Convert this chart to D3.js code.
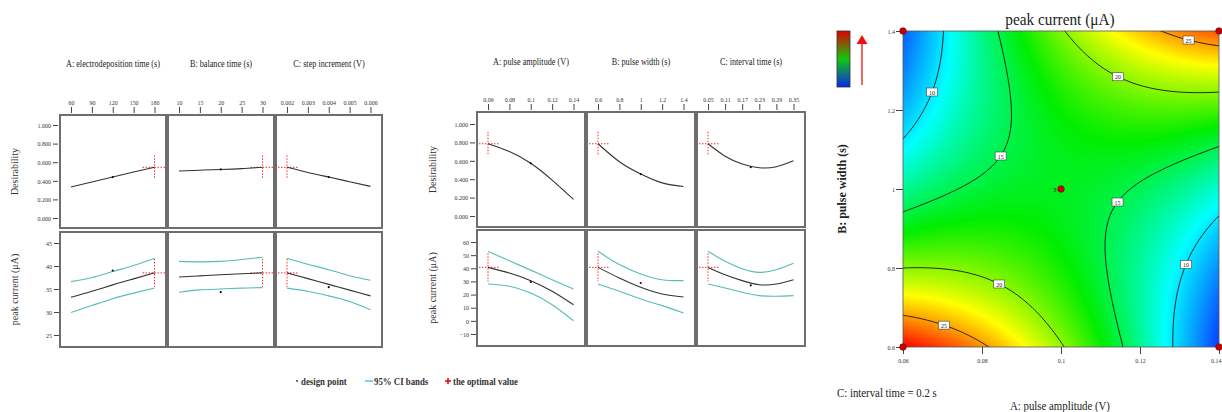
<!DOCTYPE html>
<html>
<head>
<meta charset="utf-8">
<script src="https://cdn.jsdelivr.net/npm/d3@7"></script>
<style>
  body { margin: 0; background: #fff; }
  svg { display: block; }
</style>
</head>
<body>
<svg id="chart" width="1222" height="412"></svg>
<script>
// ---------- one-factor profiles: electrodeposition step (left block) ----------
const edTitles = ["A: electrodeposition time (s)", "B: balance time (s)", "C: step increment  (V)"];
const edLevels = [[60, 90, 120, 150, 180], [10, 15, 20, 25, 30], [0.002, 0.003, 0.004, 0.005, 0.006]];
const edTickLabels = [["60", "90", "120", "150", "180"], ["10", "15", "20", "25", "30"], ["0.002", "0.003", "0.004", "0.005", "0.006"]];
const edDesirability = [[0.333, 0.387, 0.44, 0.494, 0.545], [0.505, 0.514, 0.522, 0.531, 0.545], [0.545, 0.49, 0.44, 0.39, 0.34]];
const edCurrent = [[33.2, 34.5, 35.9, 37.2, 38.5], [37.6, 37.85, 38.1, 38.3, 38.5], [38.5, 37.25, 36.0, 34.75, 33.5]];
const edUpper = [[36.6, 37.5, 38.8, 40.1, 41.7], [41.0, 40.9, 41.0, 41.4, 41.9], [41.7, 40.4, 39.2, 37.9, 36.9]];
const edLower = [[29.9, 31.4, 32.9, 34.1, 35.2], [34.3, 34.8, 35.0, 35.2, 35.3], [35.2, 34.5, 33.5, 32.3, 30.5]];
const edDesignLevel = [120, 20, 0.004];
const edDesignDesirability = [0.44, 0.522, 0.44];
const edDesignCurrent = [39.0, 34.3, 35.4];
const edOptimumLevel = [180, 30, 0.002];
const edOptimumDesirability = 0.545;
const edOptimumCurrent = 38.5;
const edDesirabilityTicks = [0, 0.2, 0.4, 0.6, 0.8, 1.0];
const edCurrentTicks = [25, 30, 35, 40, 45];

// ---------- one-factor profiles: pulse parameters (middle block) ----------
const pulseTitles = ["A: pulse amplitude (V)", "B: pulse width (s)", "C: interval time (s)"];
const pulseLevels = [[0.06, 0.08, 0.1, 0.12, 0.14], [0.6, 0.8, 1.0, 1.2, 1.4], [0.05, 0.11, 0.17, 0.23, 0.29, 0.35]];
const pulseTickLabels = [["0.06", "0.08", "0.1", "0.12", "0.14"], ["0.6", "0.8", "1", "1.2", "1.4"], ["0.05", "0.11", "0.17", "0.23", "0.29", "0.35"]];
const pulseDesirability = [[0.785, 0.70, 0.573, 0.39, 0.18], [0.785, 0.59, 0.456, 0.36, 0.32], [0.785, 0.65, 0.566, 0.525, 0.536, 0.60]];
const pulseCurrent = [[40.7, 36.4, 30.6, 22.5, 12.3], [40.7, 32.6, 25.5, 20.4, 18.2], [40.7, 35.1, 30.6, 27.5, 28.0, 31.3]];
const pulseUpper = [[52.9, 45.8, 38.6, 31.3, 24.2], [52.9, 42.8, 35.7, 31.3, 30.6], [52.9, 45.3, 39.7, 36.9, 38.9, 43.8]];
const pulseLower = [[28.0, 26.3, 21.2, 12.3, 0.1], [28.0, 22.5, 16.6, 11.6, 6.0], [28.0, 25.0, 21.7, 19.2, 18.7, 19.2]];
const pulseDesignLevel = [0.1, 1.0, 0.2];
const pulseDesignDesirability = [0.573, 0.456, 0.53];
const pulseDesignCurrent = [29.6, 28.8, 27.0];
const pulseOptimumLevel = [0.06, 0.6, 0.05];
const pulseOptimumDesirability = 0.785;
const pulseOptimumCurrent = 40.7;
const pulseDesirabilityTicks = [0, 0.2, 0.4, 0.6, 0.8, 1.0];
const pulseCurrentTicks = [-10, 0, 10, 20, 30, 40, 50, 60];

// ---------- response surface: peak current vs pulse amplitude & width (C = 0.2 s) ----------
const amplitudeTicks = [0.06, 0.08, 0.1, 0.12, 0.14];
const widthTicks = [0.6, 0.8, 1, 1.2, 1.4];
// quadratic model in coded units: intercept, A, B, AB, A², B²
const surfaceCoefs = [16.0, -0.75, -0.25, 11.25, -3.5, 4.0];
const contourLevels = [10, 15, 20, 25];
const designPointsA = [0.06, 0.14, 0.06, 0.14, 0.1];
const designPointsB = [1.4, 1.4, 0.6, 0.6, 1.0];
const centerReplicates = "3";

// ---------- drawing ----------
const SERIF = "'Liberation Serif','Times New Roman',serif";
const svg = d3.select("#chart");
const INK = "#333";
const BAND = "#55bdb4";
const OPT = "#ff2a2a";
const FRAME = "#6e6e6e";

// narrow horizontal text a little (the figure's type is condensed)
function squeeze(sel, k) {
  sel.each(function () {
    const w = this.getComputedTextLength();
    d3.select(this).attr("textLength", w * k).attr("lengthAdjust", "spacingAndGlyphs");
  });
}

function drawBlock(cfg) {
  const g = svg.append("g");
  cfg.titles.forEach((title, i) => {
    const left = cfg.lefts[i], right = left + cfg.width;
    const ticks = cfg.levels[i];
    const x = d3.scaleLinear().domain([ticks[0], ticks[ticks.length - 1]])
      .range([left + 11, right - 11.5]);
    const yD = d3.scaleLinear().domain([0, 1]).range(cfg.dRange);
    const yC = d3.scaleLinear().domain(cfg.cDomain).range(cfg.cRange);

    // title
    g.append("text").attr("x", (left + right) / 2).attr("y", cfg.titleY)
      .attr("text-anchor", "middle").attr("font-family", SERIF).attr("font-size", 10)
      .attr("fill", "#222").text(title).call(squeeze, 0.82);

    // top axis
    const ax = g.append("g").attr("transform", `translate(0,${cfg.upper[0] - 2})`)
      .call(d3.axisTop(x).tickValues(ticks).tickFormat((d, j) => cfg.tickLabels[i][j]).tickSize(6).tickPadding(2));
    ax.select(".domain").remove();
    ax.selectAll("line").attr("stroke", "#444");
    ax.selectAll("text").attr("font-family", SERIF).attr("font-size", 7).attr("fill", "#333").call(squeeze, 0.85);

    // frames
    [cfg.upper, cfg.lower].forEach(([t, b]) => {
      g.append("rect").attr("x", left).attr("y", t).attr("width", cfg.width).attr("height", b - t)
        .attr("fill", "#fff").attr("stroke", FRAME).attr("stroke-width", 2);
    });

    // left axes on the first column
    if (i === 0) {
      const ad = g.append("g").attr("transform", `translate(${left - 2},0)`)
        .call(d3.axisLeft(yD).tickValues(cfg.dTicks).tickFormat(d3.format(".3f")).tickSize(5).tickPadding(2));
      const ac = g.append("g").attr("transform", `translate(${left - 1},0)`)
        .call(d3.axisLeft(yC).tickValues(cfg.cTicks).tickFormat(d3.format("d")).tickSize(5).tickPadding(2));
      [ad, ac].forEach(a => {
        a.select(".domain").remove();
        a.selectAll("line").attr("stroke", "#444");
        a.selectAll("text").attr("font-family", SERIF).attr("font-size", 7).attr("fill", "#333").call(squeeze, 0.85);
      });
      g.append("text").attr("transform", `translate(${cfg.yLabelX},${(cfg.upper[0] + cfg.upper[1]) / 2}) rotate(-90)`)
        .attr("text-anchor", "middle").attr("font-family", SERIF).attr("font-size", 10).attr("fill", "#333")
        .text("Desirability");
      g.append("text").attr("transform", `translate(${cfg.yLabelX},${(cfg.lower[0] + cfg.lower[1]) / 2}) rotate(-90)`)
        .attr("text-anchor", "middle").attr("font-family", SERIF).attr("font-size", 10).attr("fill", "#333")
        .text("peak current (μA)");
    }

    const clipId = `clip-${cfg.id}-${i}`;
    const defs = svg.append("defs");
    defs.append("clipPath").attr("id", clipId + "u").append("rect")
      .attr("x", left + 1).attr("y", cfg.upper[0] + 1).attr("width", cfg.width - 2).attr("height", cfg.upper[1] - cfg.upper[0] - 2);
    defs.append("clipPath").attr("id", clipId + "l").append("rect")
      .attr("x", left + 1).attr("y", cfg.lower[0] + 1).attr("width", cfg.width - 2).attr("height", cfg.lower[1] - cfg.lower[0] - 2);

    const lineD = d3.line().x((d, j) => x(ticks[j])).y(d => yD(d)).curve(d3.curveNatural);
    const lineC = d3.line().x((d, j) => x(ticks[j])).y(d => yC(d)).curve(d3.curveNatural);

    // desirability
    const gu = g.append("g").attr("clip-path", `url(#${clipId}u)`);
    const ox = x(cfg.optLevel[i]);
    const oyD = yD(cfg.optD);
    gu.append("line").attr("x1", ox - 12).attr("x2", ox + 12).attr("y1", oyD).attr("y2", oyD)
      .attr("stroke", OPT).attr("stroke-width", 1).attr("stroke-dasharray", "1.5,1.5");
    gu.append("line").attr("x1", ox).attr("x2", ox).attr("y1", oyD - 12).attr("y2", oyD + 12)
      .attr("stroke", OPT).attr("stroke-width", 1).attr("stroke-dasharray", "1.5,1.5");
    gu.append("path").attr("d", lineD(cfg.desir[i])).attr("fill", "none").attr("stroke", INK).attr("stroke-width", 1.1);
    gu.append("circle").attr("cx", x(cfg.designLevel[i])).attr("cy", yD(cfg.designD[i])).attr("r", 1.1).attr("fill", "#111");

    // peak current with 95% CI bands
    const gl = g.append("g").attr("clip-path", `url(#${clipId}l)`);
    const oyC = yC(cfg.optC);
    gl.append("line").attr("x1", ox - 12).attr("x2", ox + 12).attr("y1", oyC).attr("y2", oyC)
      .attr("stroke", OPT).attr("stroke-width", 1).attr("stroke-dasharray", "1.5,1.5");
    gl.append("line").attr("x1", ox).attr("x2", ox).attr("y1", oyC - 14).attr("y2", oyC + 14)
      .attr("stroke", OPT).attr("stroke-width", 1).attr("stroke-dasharray", "1.5,1.5");
    [cfg.upperBand[i], cfg.lowerBand[i]].forEach(b => {
      gl.append("path").attr("d", lineC(b)).attr("fill", "none").attr("stroke", BAND).attr("stroke-width", 1.1);
    });
    gl.append("path").attr("d", lineC(cfg.current[i])).attr("fill", "none").attr("stroke", INK).attr("stroke-width", 1.1);
    gl.append("circle").attr("cx", x(cfg.designLevel[i])).attr("cy", yC(cfg.designC[i])).attr("r", 1.1).attr("fill", "#111");
  });
}

drawBlock({
  id: "ed", titles: edTitles, levels: edLevels, tickLabels: edTickLabels,
  lefts: [60, 168, 276], width: 106, upper: [115, 228], lower: [232, 347],
  dRange: [218, 125], cDomain: [25, 45], cRange: [335, 243],
  dTicks: edDesirabilityTicks, cTicks: edCurrentTicks, yLabelX: 18, titleY: 67,
  desir: edDesirability, current: edCurrent, upperBand: edUpper, lowerBand: edLower,
  designLevel: edDesignLevel, designD: edDesignDesirability, designC: edDesignCurrent,
  optLevel: edOptimumLevel, optD: edOptimumDesirability, optC: edOptimumCurrent
});

drawBlock({
  id: "pulse", titles: pulseTitles, levels: pulseLevels, tickLabels: pulseTickLabels,
  lefts: [477, 587, 697], width: 108, upper: [112, 227], lower: [230, 346],
  dRange: [216, 124], cDomain: [-10, 60], cRange: [334, 242],
  dTicks: pulseDesirabilityTicks, cTicks: pulseCurrentTicks, yLabelX: 436, titleY: 65,
  desir: pulseDesirability, current: pulseCurrent, upperBand: pulseUpper, lowerBand: pulseLower,
  designLevel: pulseDesignLevel, designD: pulseDesignDesirability, designC: pulseDesignCurrent,
  optLevel: pulseOptimumLevel, optD: pulseOptimumDesirability, optC: pulseOptimumCurrent
});

// legend
const lg = svg.append("g").attr("font-family", SERIF).attr("font-size", 10).attr("font-weight", "bold").attr("fill", "#333");
lg.append("circle").attr("cx", 297).attr("cy", 381).attr("r", 0.9).attr("fill", "#333");
lg.append("text").attr("x", 301).attr("y", 384.5).text("design point").call(squeeze, 0.88);
lg.append("line").attr("x1", 365).attr("x2", 373).attr("y1", 381).attr("y2", 381).attr("stroke", "#3fa9e0").attr("stroke-width", 1.2);
lg.append("text").attr("x", 374).attr("y", 384.5).text("95% CI bands").call(squeeze, 0.88);
lg.append("path").attr("d", "M445,381h6M448,378v6").attr("stroke", "#e00").attr("stroke-width", 1.5);
lg.append("text").attr("x", 453).attr("y", 384.5).text("the optimal value").call(squeeze, 0.88);

// ---------- contour panel ----------
const P = { x0: 903, x1: 1219, y0: 31, y1: 347 };
const xA = d3.scaleLinear().domain([0.06, 0.14]).range([P.x0, P.x1]);
const yB = d3.scaleLinear().domain([0.6, 1.4]).range([P.y1, P.y0]);
const codeA = a => (a - 0.1) / 0.04;
const codeB = b => (b - 1.0) / 0.4;
function peakCurrent(a, b) {
  const u = codeA(a), v = codeB(b);
  const [c0, cA, cB, cAB, cAA, cBB] = surfaceCoefs;
  return c0 + cA * u + cB * v + cAB * u * v + cAA * u * u + cBB * v * v;
}
const cornerVals = [[0.06, 0.6], [0.14, 0.6], [0.06, 1.4], [0.14, 1.4]].map(([a, b]) => peakCurrent(a, b));
const vMin = d3.min(cornerVals), vMax = d3.max(cornerVals);
const color = d3.scaleLinear()
  .domain(d3.range(5).map(k => vMin + (vMax - vMin) * k / 4))
  .range(["#0a3cff", "#00ffff", "#00ee00", "#ffff00", "#ff0000"])
  .clamp(true);

// smooth colour field rendered to a bitmap
const fw = P.x1 - P.x0, fh = P.y1 - P.y0;
const cnv = document.createElement("canvas");
cnv.width = fw; cnv.height = fh;
const ctx = cnv.getContext("2d");
const img = ctx.createImageData(fw, fh);
for (let j = 0; j < fh; j++) {
  const b = yB.invert(P.y0 + j + 0.5);
  for (let i = 0; i < fw; i++) {
    const a = xA.invert(P.x0 + i + 0.5);
    const c = d3.rgb(color(peakCurrent(a, b)));
    const k = (j * fw + i) * 4;
    img.data[k] = c.r; img.data[k + 1] = c.g; img.data[k + 2] = c.b; img.data[k + 3] = 255;
  }
}
ctx.putImageData(img, 0, 0);
svg.append("image").attr("href", cnv.toDataURL()).attr("x", P.x0).attr("y", P.y0)
  .attr("width", fw).attr("height", fh).attr("preserveAspectRatio", "none");

// contour lines, computed on a grid slightly larger than the plot and clipped
svg.append("defs").append("clipPath").attr("id", "plotclip").append("rect")
  .attr("x", P.x0).attr("y", P.y0).attr("width", fw).attr("height", fh);
const cell = 2, pad = 10;
const gx0 = P.x0 - pad, gy0 = P.y0 - pad;
const nx = Math.ceil((fw + 2 * pad) / cell), ny = Math.ceil((fh + 2 * pad) / cell);
const grid = new Float64Array(nx * ny);
for (let j = 0; j < ny; j++) for (let i = 0; i < nx; i++) {
  grid[j * nx + i] = peakCurrent(xA.invert(gx0 + (i + 0.5) * cell), yB.invert(gy0 + (j + 0.5) * cell));
}
const contourGen = d3.contours().size([nx, ny]);
const proj = d3.geoIdentity().scale(cell).translate([gx0, gy0]);
const geo = d3.geoPath(proj);
const cg = svg.append("g").attr("clip-path", "url(#plotclip)");
const isolines = contourLevels.map(level => contourGen.contour(grid, level));
isolines.forEach(c => {
  cg.append("path").attr("d", geo(c)).attr("fill", "none").attr("stroke", "#1a1a1a").attr("stroke-width", 0.9);
});

// contour value labels: snapped to the nearest point of their isoline
const labelAnchors = [
  [10, 0.0666, 1.251], [15, 0.084, 1.091], [20, 0.1147, 1.286], [25, 0.1327, 1.387],
  [15, 0.1139, 0.970], [10, 0.1311, 0.810], [20, 0.0848, 0.767], [25, 0.0706, 0.658]
];
labelAnchors.forEach(([level, a, b]) => {
  const tx = xA(a), ty = yB(b);
  const poly = isolines[contourLevels.indexOf(level)];
  let best = null, bd = Infinity;
  poly.coordinates.forEach(p => p.forEach(ring => ring.forEach(([gx, gy]) => {
    const px = gx0 + gx * cell, py = gy0 + gy * cell;
    if (px < P.x0 + 2 || px > P.x1 - 2 || py < P.y0 + 2 || py > P.y1 - 2) return;
    const d = (px - tx) ** 2 + (py - ty) ** 2;
    if (d < bd) { bd = d; best = [px, py]; }
  })));
  if (!best) return;
  cg.append("rect").attr("x", best[0] - 5.5).attr("y", best[1] - 4).attr("width", 11).attr("height", 8)
    .attr("fill", "#fff").attr("stroke", "#444").attr("stroke-width", 0.6);
  cg.append("text").attr("x", best[0]).attr("y", best[1] + 2.5).attr("text-anchor", "middle")
    .attr("font-family", SERIF).attr("font-size", 7).attr("fill", "#222").text(level).call(squeeze, 0.85);
});

// frame and axes
svg.append("rect").attr("x", P.x0).attr("y", P.y0).attr("width", fw).attr("height", fh)
  .attr("fill", "none").attr("stroke", "#555").attr("stroke-width", 0.8);
const axB = svg.append("g").attr("transform", `translate(${P.x0},0)`)
  .call(d3.axisLeft(yB).tickValues(widthTicks).tickFormat(d3.format("~g")).tickSize(7).tickPadding(1));
const axA = svg.append("g").attr("transform", `translate(0,${P.y1})`)
  .call(d3.axisBottom(xA).tickValues(amplitudeTicks).tickFormat(d3.format("~g")).tickSize(7).tickPadding(4));
[axA, axB].forEach(a => {
  a.select(".domain").remove();
  a.selectAll("line").attr("stroke", "#444");
  a.selectAll("text").attr("font-family", SERIF).attr("font-size", 7).attr("fill", "#333").call(squeeze, 0.85);
});
// keep the last amplitude label inside the page
axA.selectAll(".tick").filter(d => d === amplitudeTicks[amplitudeTicks.length - 1])
  .select("text").attr("text-anchor", "end").attr("x", 2);

// design points
designPointsA.forEach((a, k) => {
  svg.append("circle").attr("cx", xA(a)).attr("cy", yB(designPointsB[k])).attr("r", 3.3)
    .attr("fill", "#c40000").attr("stroke", "#7a0000").attr("stroke-width", 0.6);
});
svg.append("text").attr("x", xA(0.1) - 4.5).attr("y", yB(1.0) + 2.5).attr("text-anchor", "end")
  .attr("font-family", SERIF).attr("font-size", 7).attr("fill", "#222").text(centerReplicates);

// titles
svg.append("text").attr("x", 1060).attr("y", 25).attr("text-anchor", "middle")
  .attr("font-family", SERIF).attr("font-size", 17).attr("fill", "#222").text("peak current (μA)").call(squeeze, 0.9);
svg.append("text").attr("transform", `translate(846,${(P.y0 + P.y1) / 2}) rotate(-90)`).attr("text-anchor", "middle")
  .attr("font-family", SERIF).attr("font-size", 12).attr("font-weight", "bold").attr("fill", "#222").text("B: pulse width (s)");
svg.append("text").attr("x", 1060).attr("y", 410).attr("text-anchor", "middle")
  .attr("font-family", SERIF).attr("font-size", 12).attr("fill", "#222").text("A: pulse amplitude (V)").call(squeeze, 0.9);
svg.append("text").attr("x", 837).attr("y", 397)
  .attr("font-family", SERIF).attr("font-size", 12).attr("fill", "#222").text("C: interval time = 0.2 s").call(squeeze, 0.9);

// colour key with the "increasing" arrow
const grad = svg.append("defs").append("linearGradient").attr("id", "key").attr("x1", 0).attr("x2", 0).attr("y1", 0).attr("y2", 1);
[["0%", "#e00000"], ["50%", "#10c810"], ["100%", "#0a28e8"]].forEach(([o, c]) => grad.append("stop").attr("offset", o).attr("stop-color", c));
svg.append("rect").attr("x", 837).attr("y", 31).attr("width", 13).attr("height", 56)
  .attr("fill", "url(#key)").attr("stroke", "#333").attr("stroke-width", 0.8);
svg.append("line").attr("x1", 862).attr("x2", 862).attr("y1", 85).attr("y2", 43).attr("stroke", "#f01010").attr("stroke-width", 1.3);
svg.append("path").attr("d", "M856.5,44 L862,35 L867.5,44 Z").attr("fill", "#f01010");
</script>
</body>
</html>
